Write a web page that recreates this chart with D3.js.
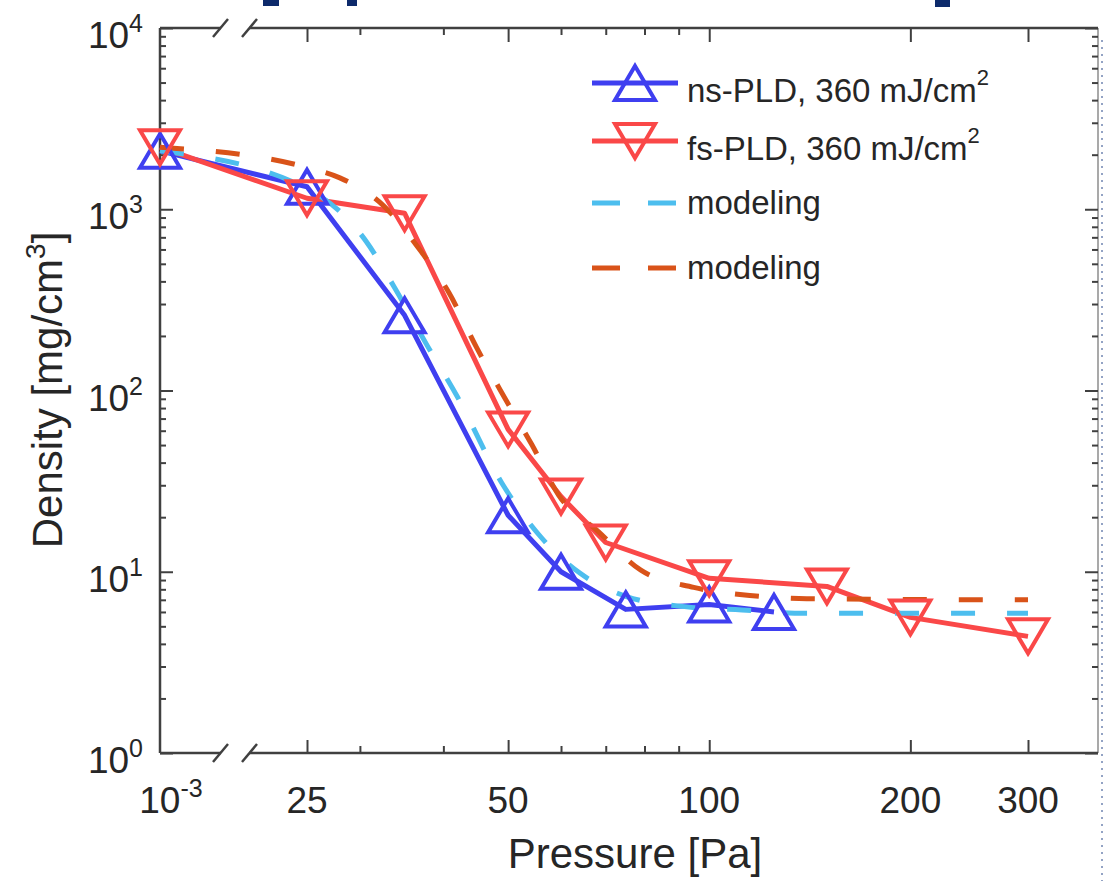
<!DOCTYPE html>
<html>
<head>
<meta charset="utf-8">
<script src="https://cdn.jsdelivr.net/npm/d3@7"></script>
<style>
  body { margin: 0; background: #fff; }
  svg { display: block; font-family: "Liberation Sans", Arial, sans-serif; }
</style>
</head>
<body>
<div id="chart"></div>
<script>
// values
var nsPressure = [0.001, 25, 35, 50, 60, 75, 100, 125];
var nsDensity  = [2100, 1330, 260, 20.5, 10, 6.2, 6.6, 6.0];

var fsPressure = [0.001, 25, 35, 50, 60, 70, 100, 150, 200, 300];
var fsDensity  = [2200, 1150, 950, 61, 26, 14.5, 9.2, 8.3, 5.6, 4.4];

var nsModelPressure = [0.001, 25, 30.7, 33.8, 37.8, 42, 48.9, 55.6, 64.1, 75.2, 92.6, 112, 139, 300];
var nsModelDensity  = [2100, 1300, 660, 370, 178, 92, 31, 16, 9.8, 7.3, 6.4, 6.15, 5.9, 5.9];

var fsModelPressure = [0.001, 25, 28, 32.5, 37.1, 40.8, 44.8, 49.6, 54.3, 59.5, 68.3, 79, 94.8, 115, 140, 300];
var fsModelDensity  = [2200, 1700, 1490, 1050, 580, 345, 174, 89, 50, 26.5, 16.6, 10.2, 8.2, 7.4, 7.1, 7.0];

var xTicks = [0.001, 25, 50, 100, 200, 300];
var xTickLabels = ["10", "25", "50", "100", "200", "300"];
var xMinorTicks = [30, 40, 60, 70, 80, 90];
var yTicks = [1, 10, 100, 1000, 10000];
var yTickExp = ["0", "1", "2", "3", "4"];

var legendLabels = ["ns-PLD, 360 mJ/cm", "fs-PLD, 360 mJ/cm", "modeling", "modeling"];

var W = 1104, H = 881;
var plotL = 160, plotR = 1098, plotT = 28, plotB = 753;
var axisCol = "#404040", textCol = "#262626";
var blue = "#3f3ff0", red = "#fa4848", cyan = "#4dbeee", orange = "#d95319";

var svg = d3.select("#chart").append("svg").attr("width", W).attr("height", H);

// broken log axis: 10^-3 sits at the axis, 25..300 is log
var x = d3.scaleLog().domain([0.001, 25, 300]).range([plotL, 307, 1028]);
var y = d3.scaleLog().domain([1, 10000]).range([plotB, plotT]);

// slide remnants at top / right edge
var navy = "#0d2a6b";
svg.append("rect").attr("x", 263).attr("y", 0).attr("width", 16).attr("height", 6).attr("fill", navy);
svg.append("rect").attr("x", 347).attr("y", 0).attr("width", 10).attr("height", 6).attr("fill", navy);
svg.append("rect").attr("x", 935).attr("y", 0).attr("width", 15).attr("height", 7).attr("fill", navy);
svg.append("line").attr("x1", 1102).attr("x2", 1102).attr("y1", 40).attr("y2", H)
  .attr("stroke", "#2a4a8a").attr("stroke-width", 2).attr("stroke-dasharray", "2,5").attr("opacity", 0.5);

function styleAxis(g) {
  g.select(".domain").remove();
  g.selectAll("line").attr("stroke", axisCol).attr("stroke-width", 2);
  g.selectAll("text").remove();
}

var yMinor = [];
[1, 10, 100, 1000].forEach(function(d) {
  for (var k = 2; k <= 9; k++) yMinor.push(d * k);
});

// left / right axes
svg.append("g").attr("transform", "translate(" + plotL + ",0)")
  .call(d3.axisLeft(y).tickValues(yTicks).tickSize(-13)).call(styleAxis);
svg.append("g").attr("transform", "translate(" + plotL + ",0)")
  .call(d3.axisLeft(y).tickValues(yMinor).tickSize(-6)).call(styleAxis);
svg.append("g").attr("transform", "translate(" + plotR + ",0)")
  .call(d3.axisRight(y).tickValues(yTicks).tickSize(-13)).call(styleAxis);
svg.append("g").attr("transform", "translate(" + plotR + ",0)")
  .call(d3.axisRight(y).tickValues(yMinor).tickSize(-6)).call(styleAxis);

// bottom / top axes
var xMajor = xTicks.slice(1);
svg.append("g").attr("transform", "translate(0," + plotB + ")")
  .call(d3.axisBottom(x).tickValues(xMajor).tickSize(-13)).call(styleAxis);
svg.append("g").attr("transform", "translate(0," + plotB + ")")
  .call(d3.axisBottom(x).tickValues(xMinorTicks).tickSize(-7)).call(styleAxis);
svg.append("g").attr("transform", "translate(0," + plotT + ")")
  .call(d3.axisTop(x).tickValues(xMajor).tickSize(-14)).call(styleAxis);
svg.append("g").attr("transform", "translate(0," + plotT + ")")
  .call(d3.axisTop(x).tickValues(xMinorTicks).tickSize(-7)).call(styleAxis);

// frame with the axis break
var frame = svg.append("g").attr("stroke", axisCol).attr("stroke-width", 2.5).attr("fill", "none");
frame.append("line").attr("x1", plotL).attr("x2", plotL).attr("y1", plotT).attr("y2", plotB);
frame.append("line").attr("x1", plotR).attr("x2", plotR).attr("y1", plotT).attr("y2", plotB).attr("stroke-width", 1.5).attr("opacity", 0.6);
[plotT, plotB].forEach(function(yy) {
  frame.append("line").attr("x1", plotL).attr("x2", 221).attr("y1", yy).attr("y2", yy);
  frame.append("line").attr("x1", 249).attr("x2", plotR).attr("y1", yy).attr("y2", yy);
  frame.append("line").attr("x1", 213).attr("x2", 228).attr("y1", yy + 9).attr("y2", yy - 9);
  frame.append("line").attr("x1", 242).attr("x2", 257).attr("y1", yy + 9).attr("y2", yy - 9);
});

// tick labels
var yLab = svg.append("g").attr("fill", textCol).attr("font-size", 37);
yTicks.forEach(function(d, i) {
  var t = yLab.append("text").attr("x", 143).attr("y", y(d) + 20).attr("text-anchor", "end");
  t.append("tspan").text("10");
  t.append("tspan").attr("font-size", 25).attr("dy", -16).text(yTickExp[i]);
});
var xLab = svg.append("g").attr("fill", textCol).attr("font-size", 37).attr("text-anchor", "middle");
xTicks.forEach(function(d, i) {
  var t = xLab.append("text").attr("x", i == 0 ? 171 : x(d)).attr("y", 813);
  t.append("tspan").text(xTickLabels[i]);
  if (i == 0) t.append("tspan").attr("font-size", 25).attr("dy", -16).text("-3");
});

svg.append("text").attr("x", 635).attr("y", 868).attr("text-anchor", "middle")
  .attr("font-size", 42).attr("fill", textCol).text("Pressure [Pa]");
var yt = svg.append("text").attr("transform", "translate(62,390) rotate(-90)")
  .attr("text-anchor", "middle").attr("font-size", 42).attr("fill", textCol);
yt.append("tspan").text("Density [mg/cm");
yt.append("tspan").attr("font-size", 28).attr("dy", -17).text("3");
yt.append("tspan").attr("dy", 17).text("]");

// data
function pts(ps, ds) { return ps.map(function(p, i) { return {p: p, v: ds[i]}; }); }
var ns = pts(nsPressure, nsDensity), fs = pts(fsPressure, fsDensity);
var nsM = pts(nsModelPressure, nsModelDensity), fsM = pts(fsModelPressure, fsModelDensity);

var straight = d3.line().x(function(d) { return x(d.p); }).y(function(d) { return y(d.v); });
var smooth = d3.line().x(function(d) { return x(d.p); }).y(function(d) { return y(d.v); }).curve(d3.curveMonotoneX);

var upTri = "M0,-17L20,17L-20,17Z", downTri = "M0,17L20,-17L-20,-17Z";

svg.append("path").datum(ns).attr("d", straight).attr("fill", "none").attr("stroke", blue).attr("stroke-width", 5).attr("stroke-linejoin", "round");
svg.append("path").datum(fs).attr("d", straight).attr("fill", "none").attr("stroke", red).attr("stroke-width", 5).attr("stroke-linejoin", "round");
svg.append("path").datum(nsM).attr("d", smooth).attr("fill", "none").attr("stroke", cyan).attr("stroke-width", 5).attr("stroke-dasharray", "24,32");
svg.append("path").datum(fsM).attr("d", smooth).attr("fill", "none").attr("stroke", orange).attr("stroke-width", 5).attr("stroke-dasharray", "24,32");

svg.append("g").selectAll("path").data(ns).enter().append("path")
  .attr("transform", function(d) { return "translate(" + x(d.p) + "," + y(d.v) + ")"; })
  .attr("d", upTri).attr("fill", "none").attr("stroke", blue).attr("stroke-width", 4);
svg.append("g").selectAll("path").data(fs).enter().append("path")
  .attr("transform", function(d) { return "translate(" + x(d.p) + "," + y(d.v) + ")"; })
  .attr("d", downTri).attr("fill", "none").attr("stroke", red).attr("stroke-width", 4);

// legend
var legY = [83, 141, 203, 268];
var legCols = [blue, red, cyan, orange];
var leg = svg.append("g");
legendLabels.forEach(function(lab, i) {
  var ln = leg.append("line").attr("x1", 592).attr("x2", 678).attr("y1", legY[i]).attr("y2", legY[i])
    .attr("stroke", legCols[i]).attr("stroke-width", 5);
  if (i >= 2) ln.attr("stroke-dasharray", "28,28");
  if (i < 2) leg.append("path").attr("transform", "translate(635," + legY[i] + ")")
    .attr("d", i == 0 ? upTri : downTri).attr("fill", "none").attr("stroke", legCols[i]).attr("stroke-width", 4);
  var t = leg.append("text").attr("x", 687).attr("y", legY[i] + (i < 2 ? 19 : 11))
    .attr("font-size", 33).attr("fill", textCol);
  t.append("tspan").text(lab);
  if (i < 2) t.append("tspan").attr("font-size", 22).attr("dy", -17).text("2");
});
</script>
</body>
</html>
